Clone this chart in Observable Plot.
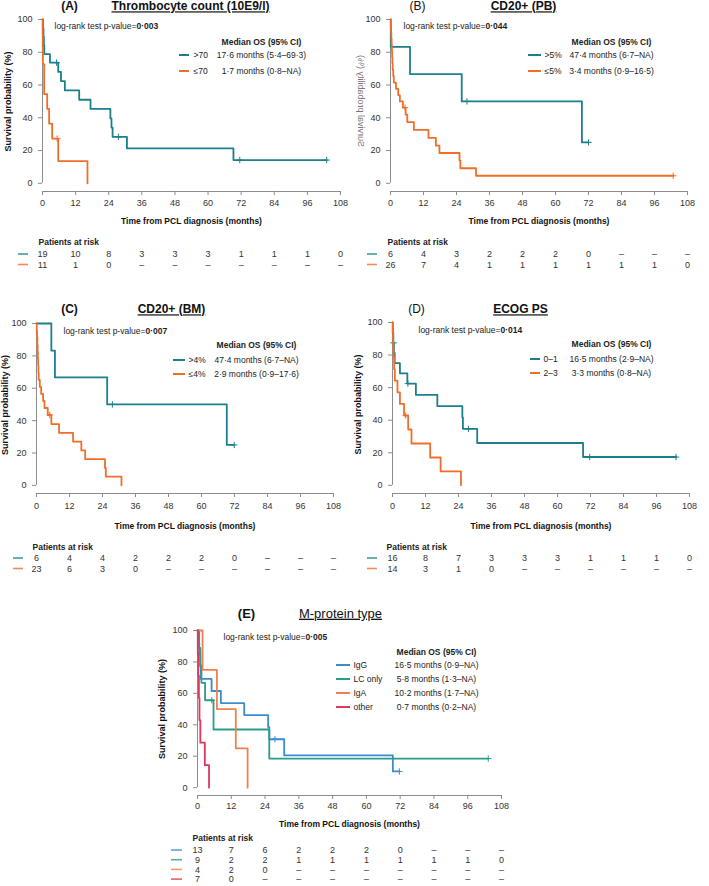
<!DOCTYPE html>
<html><head><meta charset="utf-8">
<script src="https://cdn.jsdelivr.net/npm/d3@7"></script>
<script src="https://cdn.jsdelivr.net/npm/@observablehq/plot@0.6"></script>
<style>
body{margin:0;background:#fff;}
#page{position:relative;width:709px;height:886px;overflow:hidden;background:#fff;}
.panel{position:absolute;}
.panel svg{overflow:visible;}
</style></head><body><div id="page"></div>
<script>
const FONT = '"Liberation Sans", Arial, Helvetica, sans-serif';
const monthTicks = [0,12,24,36,48,60,72,84,96,108];
const survTicks = [0,20,40,60,80,100];
const Y_FLOOR = -5;
const AXIS_GREY = "#8c8c8c";
const TEAL = "#1b7f8c", ORANGE = "#f26e28";
const C_IGG = "#3a8cd0", C_LC = "#2b9b8c", C_IGA = "#f47f4e", C_OTHER = "#e0365a";
const xTitle = "Time from PCL diagnosis (months)";
const yTitle = "Survival probability (%)";
const legendHead = "Median OS (95% CI)";
const riskHead = "Patients at risk";

// ---- Panel A: Thrombocyte count
const aTitle = "Thrombocyte count (10E9/l)";
const aP = "0·003";
const aGroups = [">70", "≤70"];
const aMedians = ["17·6 months (5·4–69·3)", "1·7 months (0·8–NA)"];
const aHiT = [0,0.2,0.35,0.5,0.65,2.7,5.7,6.7,8.1,13.3,17.4,24.6,25.0,25.4,30.6,69.2,103];
const aHiS = [100,94.7,89.5,84.2,78.9,73.7,68.0,62.4,56.7,51.0,45.4,39.7,34.0,28.4,21.3,14.2,14.2];
const aHiCT = [5.1,27.5,71.5,103]; const aHiCS = [73.7,28.4,14.2,14.2];
const aLoT = [0,0.05,0.1,0.15,0.6,1.7,2.4,3.5,5.7,16.3];
const aLoS = [100,90.9,81.8,72.7,54.5,45.5,36.4,27.3,13.6,0];
const aLoCT = [5.3]; const aLoCS = [27.3];
const aHiRisk = [19,10,8,3,3,3,1,1,1,0];
const aLoRisk = [11,1,0,null,null,null,null,null,null,null];

// ---- Panel B: CD20+ (PB)
const bTitle = "CD20+ (PB)";
const bP = "0·044";
const bGroups = [">5%", "≤5%"];
const bMedians = ["47·4 months (6·7–NA)", "3·4 months (0·9–16·5)"];
const bHiT = [0,0.1,7.1,25.9,69.6,72]; const bHiS = [100,83.3,66.7,50,25,25];
const bHiCT = [27.8,72]; const bHiCS = [50,25];
const bLoT = [0,0.1,0.2,0.3,0.4,0.5,0.6,0.7,0.8,1.0,1.2,2.0,2.8,3.4,4.5,5.5,6.1,8.5,13.8,16.5,17.8,25.1,25.4,31.1,102.8];
const bLoS = [100,96.2,92.3,88.5,84.6,80.8,76.9,73.1,69.2,65.4,61.5,57.7,53.8,50,46.2,41.9,37.4,32.6,27.7,23.0,18.5,13.9,9.2,4.6,4.6];
const bLoCT = [5.3,102.8]; const bLoCS = [46.2,4.6];
const bHiRisk = [6,4,3,2,2,2,0,null,null,null];
const bLoRisk = [26,7,4,1,1,1,1,1,1,0];

// ---- Panel C: CD20+ (BM)
const cTitle = "CD20+ (BM)";
const cP = "0·007";
const cGroups = [">4%", "≤4%"];
const cMedians = ["47·4 months (6·7–NA)", "2·9 months (0·9–17·6)"];
const cHiT = [0,5.4,6.7,25.7,69.2,71.9]; const cHiS = [100,83.3,66.7,50,25,25];
const cHiCT = [27.6,71.9]; const cHiCS = [50,25];
const cLoT = [0,0.1,0.2,0.3,0.4,0.5,0.6,0.7,0.8,1.2,1.7,2.4,2.9,4.1,5.4,8.2,13.3,16.3,17.7,24.9,25.2,30.9];
const cLoS = [100,95.7,91.3,87.0,82.6,78.3,73.9,69.6,65.2,60.9,56.5,52.2,47.8,43.5,37.9,32.4,27.0,21.6,16.2,10.8,5.4,0];
const cLoCT = [4.8]; const cLoCS = [43.5];
const cHiRisk = [6,4,4,2,2,2,0,null,null,null];
const cLoRisk = [23,6,3,0,null,null,null,null,null,null];

// ---- Panel D: ECOG PS
const dTitle = "ECOG PS";
const dP = "0·014";
const dGroups = ["0–1", "2–3"];
const dMedians = ["16·5 months (2·9–NA)", "3·3 months (0·8–NA)"];
const dHiT = [0,0.1,0.3,0.5,0.8,2.7,5.4,8.5,16.3,25.4,25.6,30.8,69.3,103.1];
const dHiS = [100,93.8,87.5,81.3,75,68.8,62.5,55.6,48.6,41.7,34.7,26.0,17.4,17.4];
const dHiCT = [0.4,5.6,27.6,71.7,103.1]; const dHiCS = [87.5,62.5,34.7,17.4,17.4];
const dLoT = [0,0.1,0.2,0.4,0.6,0.85,1.8,2.7,4.2,5.7,6.9,13.7,17.5,24.9];
const dLoS = [100,92.9,85.7,78.6,71.4,64.3,57.1,50,42.9,34.3,25.7,17.1,8.6,0];
const dLoCT = [4.8]; const dLoCS = [42.9];
const dHiRisk = [16,8,7,3,3,3,1,1,1,0];
const dLoRisk = [14,3,1,0,null,null,null,null,null,null];

// ---- Panel E: M-protein type
const eTitle = "M-protein type";
const eP = "0·005";
const eGroups = ["IgG", "LC only", "IgA", "other"];
const eMedians = ["16·5 months (0·9–NA)", "5·8 months (1·3–NA)", "10·2 months (1·7–NA)", "0·7 months (0·2–NA)"];
const eIgGT = [0,0.3,0.6,1.0,1.2,5.0,8.3,16.6,25.1,25.5,30.8,69.4,71.7];
const eIgGS = [100,92.3,84.6,76.9,69.2,61.5,53.8,46.2,38.5,30.8,20.5,10.3,10.3];
const eIgGCT = [27.5,71.7]; const eIgGCS = [30.8,10.3];
const eLcT = [0,0.6,1.0,1.4,2.7,5.7,25.5,103.3];
const eLcS = [100,88.9,77.8,66.7,55.6,37.0,18.5,18.5];
const eLcCT = [5.1,103.3]; const eLcCS = [55.6,18.5];
const eIgaT = [0,1.8,6.9,13.6,17.8]; const eIgaS = [100,75,50,25,0];
const eIgaCT = []; const eIgaCS = [];
const eOthT = [0,0.1,0.3,0.5,0.7,1.0,2.6,4.1]; const eOthS = [100,85.7,71.4,57.1,42.9,28.6,14.3,0];
const eOthCT = []; const eOthCS = [];
const eIgGRisk = [13,7,6,2,2,2,0,null,null,null];
const eLcRisk = [9,2,2,1,1,1,1,1,1,0];
const eIgaRisk = [4,2,0,null,null,null,null,null,null,null];
const eOthRisk = [7,0,null,null,null,null,null,null,null,null];

function makePanel(cfg) {
  const {left, top, width, height, mt, mb, ml, mr} = cfg;
  const axisPageY = top + height - mb;
  const dxOf = px => px - left - ml;
  const dyOf = py => py - top - mt;
  const txt = (px, py, s, o = {}) => Plot.text([s], {
    frameAnchor: "top-left", dx: dxOf(px), dy: dyOf(py), text: d => d,
    textAnchor: o.anchor || "start", lineAnchor: "middle",
    fontSize: o.size || 8.5, fontWeight: o.weight || "normal", fill: o.fill || "#222",
    rotate: o.rotate || 0, fontFamily: FONT
  });
  const marks = [];
  marks.push(Plot.ruleY([Y_FLOOR], {x1: monthTicks[0], x2: monthTicks[monthTicks.length-1], stroke: AXIS_GREY}));
  marks.push(Plot.ruleX([monthTicks[0]], {y1: survTicks[0], y2: survTicks[survTicks.length-1], stroke: AXIS_GREY}));
  marks.push(Plot.axisX({ticks: monthTicks, tickSize: 4, tickPadding: cfg.tickPad, fontSize: 9, label: null,
    stroke: AXIS_GREY, fill: "#333", tickFormat: d => String(d), fontFamily: FONT}));
  marks.push(Plot.axisY({ticks: survTicks, tickSize: 4, tickPadding: 6, fontSize: 9, label: null,
    stroke: AXIS_GREY, fill: "#333", tickFormat: d => String(d), fontFamily: FONT}));
  for (const s of cfg.series) {
    marks.push(Plot.line(s.T.map((t, i) => ({t, v: s.S[i]})), {x: "t", y: "v", curve: "step-after", stroke: s.color, strokeWidth: 1.8}));
    if (s.cT.length) marks.push(Plot.dot(s.cT.map((t, i) => ({t, v: s.cS[i]})), {x: "t", y: "v", symbol: "plus", r: 2.2, stroke: s.color, strokeWidth: 1}));
  }
  // titles
  marks.push(txt(cfg.letterX, cfg.titleY, cfg.letter, {anchor: "middle", size: cfg.titleSize, weight: cfg.letterWeight, fill: "#111"}));
  marks.push(txt(cfg.titleX, cfg.titleY, cfg.title, {anchor: "middle", size: cfg.titleSize, weight: cfg.titleWeight, fill: "#111"}));
  // p-value
  marks.push(txt(cfg.pX, cfg.pY, "log-rank test p-value=" + cfg.p, {size: 8.5}));
  // legend
  marks.push(txt(cfg.legValX, cfg.legHeadY, legendHead, {anchor: "middle", weight: "bold", size: 8.5}));
  cfg.series.forEach((s, i) => {
    marks.push(txt(cfg.legLabelX, cfg.legRowsY[i], s.name, {size: 8.5}));
    marks.push(txt(cfg.legValX, cfg.legRowsY[i], s.median, {anchor: "middle", size: 8.5}));
  });
  // axis title
  marks.push(Plot.text([xTitle], {frameAnchor: "bottom", dy: cfg.xTitleDy, text: d => d, fontWeight: "bold", fontSize: 8.5, lineAnchor: "middle", fill: "#111", fontFamily: FONT}));
  // y title
  if (!cfg.mirrorY) marks.push(txt(cfg.yLabX, (cfg.y100 + cfg.y0) / 2, yTitle, {anchor: "middle", rotate: -90, weight: "bold", size: 9, fill: "#111"}));
  // risk table
  marks.push(txt(cfg.riskX, axisPageY + cfg.riskHeadDy, riskHead, {weight: "bold", size: 8.5}));
  cfg.series.forEach((s, i) => {
    marks.push(Plot.text(monthTicks, {x: d => d, frameAnchor: "bottom", dy: cfg.riskRowDy + i * cfg.riskStep,
      text: (d, j) => (s.risk[j] == null ? "–" : String(s.risk[j])), fontSize: 9, textAnchor: "middle", lineAnchor: "middle", fill: "#333", fontFamily: FONT}));
  });

  const svg = Plot.plot({
    width, height, marginTop: mt, marginBottom: mb, marginLeft: ml, marginRight: mr,
    x: {domain: [monthTicks[0], monthTicks[monthTicks.length-1]]},
    y: {domain: [Y_FLOOR, survTicks[survTicks.length-1]]},
    style: {fontFamily: FONT, background: "transparent", overflow: "visible"},
    marks
  });
  const sel = d3.select(svg);
  sel.selectAll("text").filter(function() { return this.textContent === cfg.title; })
    .style("text-decoration", "underline");
  sel.selectAll("text").filter(function() { return this.textContent.startsWith("log-rank"); })
    .each(function() {
      const el = d3.select(this);
      el.text(null);
      el.append("tspan").text("log-rank test p-value=");
      el.append("tspan").attr("font-weight", "bold").text(cfg.p);
    });
  cfg.series.forEach((s, i) => {
    sel.append("line").attr("x1", cfg.legLine[0] - left).attr("x2", cfg.legLine[1] - left)
      .attr("y1", cfg.legRowsY[i] - top).attr("y2", cfg.legRowsY[i] - top)
      .attr("stroke", s.color).attr("stroke-width", 2);
    const ry = axisPageY + cfg.riskRowDy + i * cfg.riskStep - top;
    sel.append("line").attr("x1", cfg.riskMark[0] - left).attr("x2", cfg.riskMark[1] - left)
      .attr("y1", ry).attr("y2", ry).attr("stroke", s.color).attr("stroke-width", 1.6).attr("opacity", 0.8);
  });
  if (cfg.mirrorY) {
    const cx = cfg.yLabX - left, cy = (cfg.y100 + cfg.y0) / 2 - top;
    sel.append("text").attr("transform", `translate(${cx},${cy}) rotate(-90) scale(1,-1)`)
      .attr("text-anchor", "middle").attr("dominant-baseline", "central")
      .attr("font-family", FONT).attr("font-size", 9).attr("fill", "#777").text(yTitle);
  }
  const div = document.createElement("div");
  div.className = "panel";
  div.style.left = left + "px"; div.style.top = top + "px";
  div.appendChild(svg);
  document.getElementById("page").appendChild(div);
}

const two = (hiT, hiS, hiCT, hiCS, hiRisk, loT, loS, loCT, loCS, loRisk, groups, medians) => [
  {name: groups[0], median: medians[0], color: TEAL, T: hiT, S: hiS, cT: hiCT, cS: hiCS, risk: hiRisk},
  {name: groups[1], median: medians[1], color: ORANGE, T: loT, S: loS, cT: loCT, cS: loCS, risk: loRisk}
];

makePanel({left: 0, top: 0, width: 354, height: 275, mt: 19, mb: 84, ml: 42, mr: 14, y100: 19, y0: 183,
  tickPad: 4.5, xTitleDy: 30, riskHeadDy: 51, riskRowDy: 63, riskStep: 10.5,
  letter: "(A)", letterX: 69, letterWeight: "bold", title: aTitle, titleX: 190, titleY: 6, titleSize: 12, titleWeight: "bold",
  p: aP, pX: 54, pY: 26, legValX: 261, legHeadY: 42, legRowsY: [55, 71], legLine: [179, 189], legLabelX: 193,
  yLabX: 8, riskX: 38, riskMark: [18, 28],
  series: two(aHiT, aHiS, aHiCT, aHiCS, aHiRisk, aLoT, aLoS, aLoCT, aLoCS, aLoRisk, aGroups, aMedians)});

makePanel({left: 354, top: 0, width: 355, height: 275, mt: 19, mb: 84, ml: 36, mr: 22, y100: 19, y0: 183,
  tickPad: 4.5, xTitleDy: 30, riskHeadDy: 51, riskRowDy: 63, riskStep: 10.5,
  letter: "(B)", letterX: 417, letterWeight: "normal", title: bTitle, titleX: 523, titleY: 6, titleSize: 12, titleWeight: "bold",
  p: bP, pX: 403, pY: 26, legValX: 611, legHeadY: 42, legRowsY: [55, 71], legLine: [528, 541], legLabelX: 544,
  yLabX: 361, mirrorY: true, riskX: 387, riskMark: [367, 377],
  series: two(bHiT, bHiS, bHiCT, bHiCS, bHiRisk, bLoT, bLoS, bLoCT, bLoCS, bLoRisk, bGroups, bMedians)});

makePanel({left: 0, top: 300, width: 354, height: 275, mt: 23, mb: 82, ml: 36, mr: 21, y100: 323, y0: 486,
  tickPad: 5.5, xTitleDy: 33, riskHeadDy: 54, riskRowDy: 65, riskStep: 10.5,
  letter: "(C)", letterX: 69, letterWeight: "bold", title: cTitle, titleX: 171, titleY: 309, titleSize: 12, titleWeight: "bold",
  p: cP, pX: 63, pY: 331, legValX: 256, legHeadY: 345, legRowsY: [360, 374], legLine: [173, 185], legLabelX: 188,
  yLabX: 5, riskX: 32, riskMark: [13, 23],
  series: two(cHiT, cHiS, cHiCT, cHiCS, cHiRisk, cLoT, cLoS, cLoCT, cLoCS, cLoRisk, cGroups, cMedians)});

makePanel({left: 354, top: 300, width: 355, height: 275, mt: 22, mb: 82, ml: 38, mr: 20, y100: 322, y0: 486,
  tickPad: 5.5, xTitleDy: 33, riskHeadDy: 54, riskRowDy: 65, riskStep: 10.5,
  letter: "(D)", letterX: 416, letterWeight: "normal", title: dTitle, titleX: 520, titleY: 309, titleSize: 12, titleWeight: "bold",
  p: dP, pX: 418, pY: 330, legValX: 611, legHeadY: 344, legRowsY: [359, 373], legLine: [530, 540], legLabelX: 543,
  yLabX: 358, riskX: 386, riskMark: [367, 377],
  series: two(dHiT, dHiS, dHiCT, dHiCS, dHiRisk, dLoT, dLoS, dLoCT, dLoCS, dLoRisk, dGroups, dMedians)});

makePanel({left: 150, top: 600, width: 380, height: 286, mt: 30, mb: 91, ml: 47, mr: 29, y100: 630, y0: 787,
  tickPad: 3.5, xTitleDy: 29, riskHeadDy: 43, riskRowDy: 55, riskStep: 9.7,
  letter: "(E)", letterX: 246, letterWeight: "bold", title: eTitle, titleX: 340, titleY: 613, titleSize: 13, titleWeight: "normal",
  p: eP, pX: 223, pY: 637, legValX: 436, legHeadY: 652, legRowsY: [665, 679, 693, 707], legLine: [336, 350], legLabelX: 353,
  yLabX: 162, riskX: 192, riskMark: [171, 182],
  series: [
    {name: eGroups[0], median: eMedians[0], color: C_IGG, T: eIgGT, S: eIgGS, cT: eIgGCT, cS: eIgGCS, risk: eIgGRisk},
    {name: eGroups[1], median: eMedians[1], color: C_LC, T: eLcT, S: eLcS, cT: eLcCT, cS: eLcCS, risk: eLcRisk},
    {name: eGroups[2], median: eMedians[2], color: C_IGA, T: eIgaT, S: eIgaS, cT: eIgaCT, cS: eIgaCS, risk: eIgaRisk},
    {name: eGroups[3], median: eMedians[3], color: C_OTHER, T: eOthT, S: eOthS, cT: eOthCT, cS: eOthCS, risk: eOthRisk}
  ]});
</script>
</body></html>
